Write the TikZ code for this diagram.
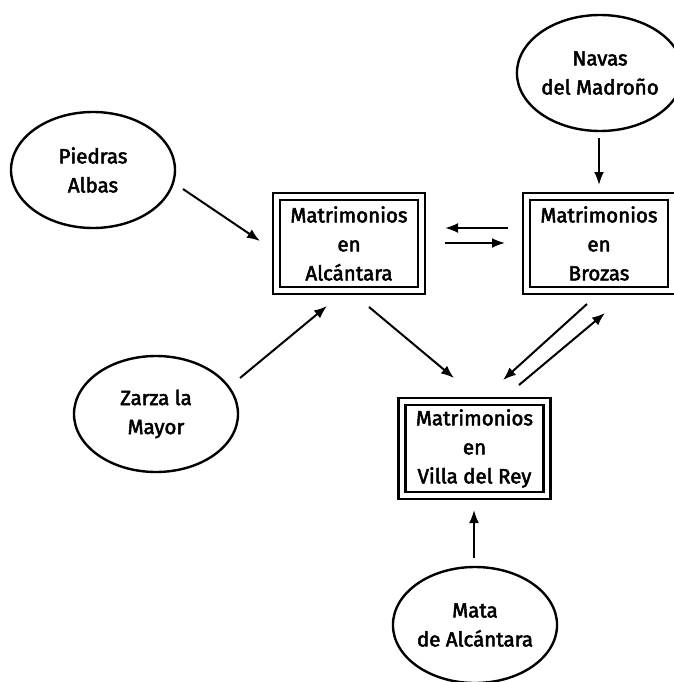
\documentclass[tikz,border=0pt]{standalone}
\usepackage{fontspec}
\setmainfont{Fira Sans}
\newfontfamily\placefont{Fira Sans}[FakeBold=2.5]
\usetikzlibrary{shapes.geometric,arrows.meta}

\tikzset{
    every picture/.style={
        line width=2.4pt
    },
    % Villages around the registers
    town/.style={
        ellipse, draw,
        minimum width=164pt, minimum height=116pt,
        inner sep=0pt, align=center,
        font=\placefont\fontsize{20.5}{29}\selectfont
    },
    % Parish marriage registers
    registry/.style={
        rectangle, draw, double, double distance=4.6pt,
        line width=2.4pt,
        minimum width=145pt, minimum height=94pt,
        inner sep=0pt, align=center,
        font=\placefont\fontsize{20.5}{29}\selectfont
    },
    flow/.style={
        -{Latex[length=13pt,width=10pt]},
        line width=2pt
    }
}

\begin{document}
\begin{tikzpicture}[x=1pt,y=-1pt]

% Set the canvas size
\path[use as bounding box, fill=white] (0,0) rectangle (673,682);

% villages
\node[town] (piedras) at (93,170) {Piedras\\Albas};
\node[town] (navas) at (600,73) {Navas\\del Madroño};
\node[town] (zarza) at (156,414) {Zarza la\\Mayor};
\node[town] (mata) at (475,625) {Mata\\de Alcántara};

% registers
\node[registry] (alcantara) at (349,243.5) {Matrimonios\\en\\Alcántara};
\node[registry] (brozas) at (599,243.5) {Matrimonios\\en\\Brozas};
\node[registry] (villa) at (474.5,448.5) {Matrimonios\\en\\Villa del Rey};

% arrows into Alcantara
\draw[flow] ([shift={(90,19)}]piedras.center) -- ([shift={(-89,-2.5)}]alcantara.center);
\draw[flow] ([shift={(84,-36)}]zarza.center) -- ([shift={(-22,62.5)}]alcantara.center);

% Alcantara <-> Brozas
\draw[flow] ([shift={(-91,-15.5)}]brozas.center) -- ([shift={(96,-15.5)}]alcantara.center);
\draw[flow] ([shift={(96,-0.5)}]alcantara.center) -- ([shift={(-94,-0.5)}]brozas.center);
\draw[flow] ([shift={(-1,65)}]navas.center) -- ([shift={(0,-58.5)}]brozas.center);

% into and out of Villa del Rey
\draw[flow] ([shift={(20,63.5)}]alcantara.center) -- ([shift={(-20.5,-70.5)}]villa.center);
\draw[flow] ([shift={(-12,60.5)}]brozas.center) -- ([shift={(28.5,-68.5)}]villa.center);
\draw[flow] ([shift={(44.5,-63.5)}]villa.center) -- ([shift={(6,69.5)}]brozas.center);
\draw[flow] ([shift={(-1,-67)}]mata.center) -- ([shift={(-0.5,61.5)}]villa.center);

\end{tikzpicture}
\end{document}
